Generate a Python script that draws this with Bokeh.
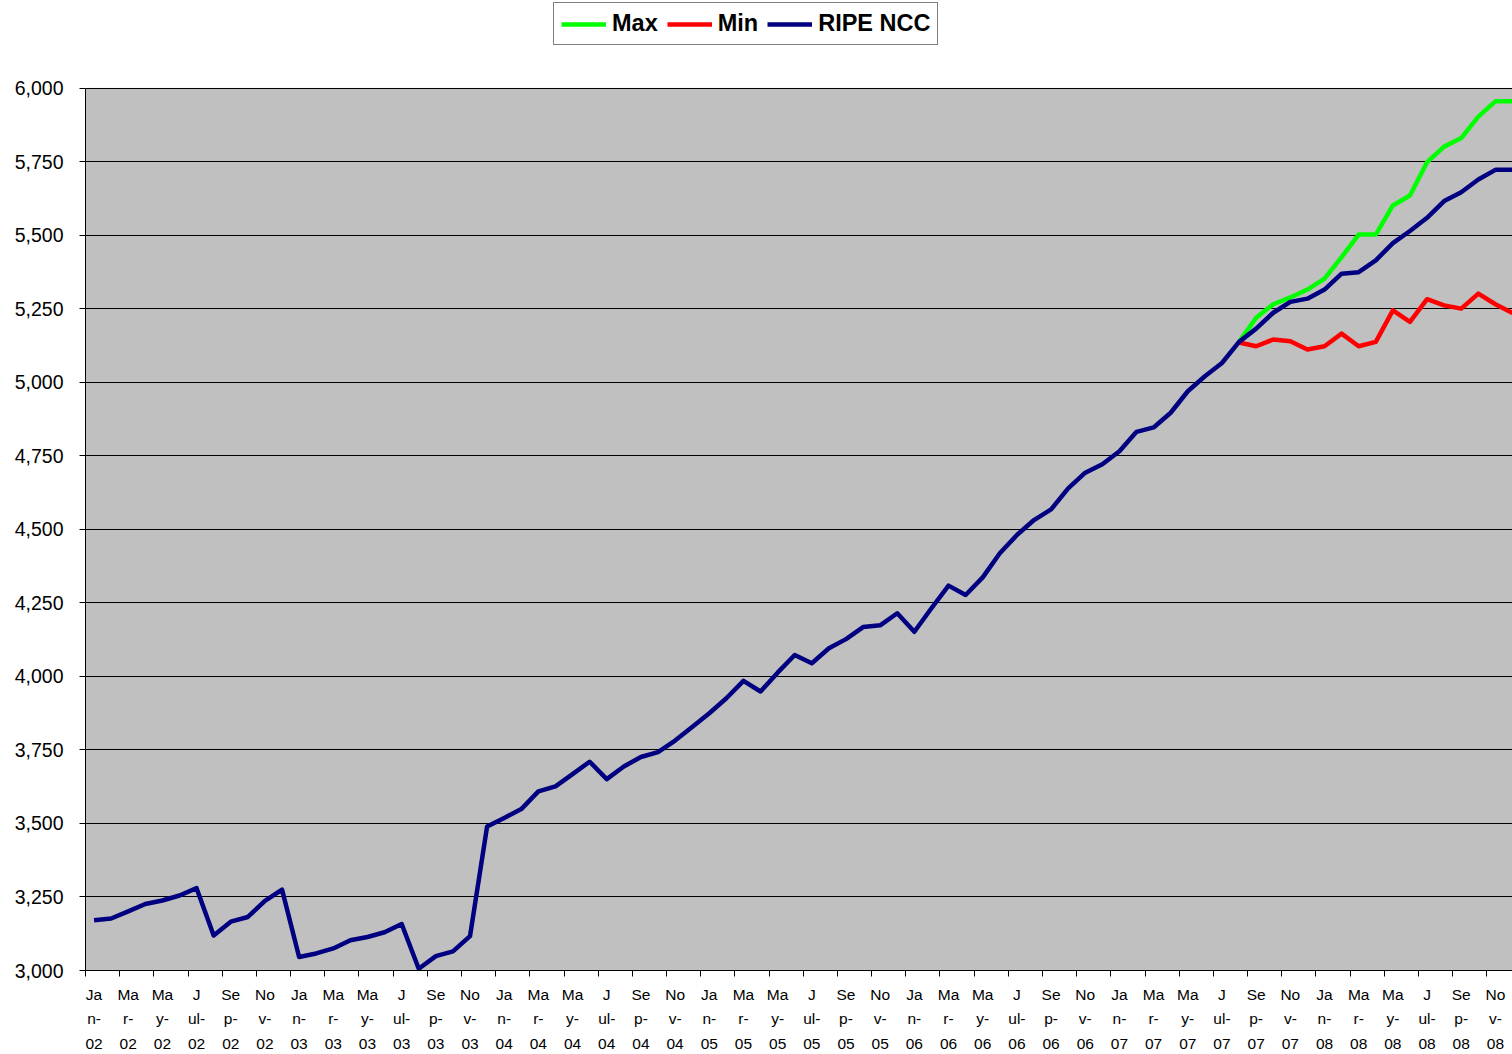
import numpy as np
from bokeh.plotting import figure
from bokeh.models import (ColumnDataSource, FixedTicker, NumeralTickFormatter,
                          Legend, LegendItem, Range1d, BoxAnnotation)
from bokeh.embed import file_html
from bokeh.resources import INLINE

# ---- data -------------------------------------------------------------
month_names = ["Jan", "Feb", "Mar", "Apr", "May", "Jun",
               "Jul", "Aug", "Sep", "Oct", "Nov", "Dec"]
years = ["02", "03", "04", "05", "06", "07", "08"]
months = [f"{m}-{y}" for y in years for m in month_names]   # Jan-02 .. Dec-08

ripe_ncc = [3171, 3177, 3201, 3226, 3238, 3255, 3280, 3119, 3166, 3182, 3237, 3275,
            3046, 3058, 3075, 3103, 3114, 3130, 3158, 3006, 3049, 3065, 3117, 3490,
            3519, 3549, 3609, 3626, 3668, 3710, 3651, 3694, 3726, 3743, 3782, 3828,
            3875, 3926, 3985, 3949, 4013, 4073, 4045, 4096, 4127, 4168, 4174, 4215,
            4152, 4232, 4309, 4277, 4337, 4419, 4481, 4532, 4568, 4640, 4693, 4722,
            4766, 4832, 4847, 4897, 4970, 5021, 5066, 5138, 5183, 5237, 5274, 5285,
            5316, 5370, 5375, 5415, 5474, 5515, 5560, 5617, 5647, 5690, 5723, 5723]

# forecast series start at Aug-07
forecast_months = months[67:]
max_values = [5138, 5220, 5266, 5289, 5316, 5353, 5426, 5503, 5503, 5602, 5636,
              5749, 5802, 5831, 5904, 5956, 5956]
min_values = [5136, 5123, 5146, 5140, 5112, 5123, 5166, 5123, 5138, 5245, 5206,
              5283, 5262, 5251, 5302, 5266, 5236]

y_ticks = [3000, 3250, 3500, 3750, 4000, 4250, 4500, 4750, 5000, 5250, 5500, 5750, 6000]

# ---- helpers ------------------------------------------------------------
wrap = {"Jan": "Ja\nn-", "Mar": "Ma\nr-", "May": "Ma\ny-",
        "Jul": "J\nul-", "Sep": "Se\np-", "Nov": "No\nv-"}
idx = {m: i for i, m in enumerate(months)}

y_lo, y_hi = y_ticks[0], y_ticks[-1]
# frame extends above the plot area so the legend (inside the frame) sits on top
p = figure(width=1512, height=1054, output_backend="svg", toolbar_location=None,
           x_range=Range1d(-0.5, len(months) - 1.0),
           y_range=Range1d(y_lo, y_hi + (y_hi - y_lo) * 88 / 883),
           min_border_left=85, min_border_right=0, min_border_top=0,
           min_border_bottom=83)
p.background_fill_color = "white"
p.border_fill_color = "white"
p.outline_line_color = None

# grey plot area (3,000 .. 6,000)
plot_area = BoxAnnotation(bottom=y_lo, top=y_hi, fill_color="#C0C0C0", fill_alpha=1,
                          line_color="#808080", line_width=1, level="image")
p.add_layout(plot_area)

src_r = ColumnDataSource(dict(x=[idx[m] for m in months], y=ripe_ncc))
src_max = ColumnDataSource(dict(x=[idx[m] for m in forecast_months], y=max_values))
src_min = ColumnDataSource(dict(x=[idx[m] for m in forecast_months], y=min_values))

r_max = p.line("x", "y", source=src_max, line_color="#00FF00", line_width=4.5,
               line_join="round")
r_min = p.line("x", "y", source=src_min, line_color="#FF0000", line_width=4.5,
               line_join="round")
r_ripe = p.line("x", "y", source=src_r, line_color="#000080", line_width=4.5,
                line_join="round")

# axes
label_ticks = list(range(0, len(months), 2))
p.xaxis.ticker = FixedTicker(ticks=label_ticks,
                             minor_ticks=[t - 0.5 for t in range(0, len(months) + 1, 2)])
p.xaxis.major_label_overrides = {i: f"{wrap[months[i][:3]]}\n{months[i][4:]}"
                                 for i in label_ticks}
p.xaxis.major_tick_line_color = None
p.xaxis.major_tick_out = 0
p.xaxis.major_tick_in = 0
p.xaxis.minor_tick_line_color = "black"
p.xaxis.minor_tick_out = 6
p.xaxis.minor_tick_in = 0
p.xaxis.axis_line_color = "black"
p.xaxis.major_label_text_font = "Liberation Sans"
p.xaxis.major_label_text_font_size = "15.5px"
p.xaxis.major_label_text_color = "black"
p.xaxis.major_label_text_line_height = 1.45
p.xaxis.major_label_standoff = 9

p.yaxis.ticker = FixedTicker(ticks=y_ticks)
p.yaxis.bounds = (y_lo, y_hi)
p.yaxis.formatter = NumeralTickFormatter(format="0,0")
p.yaxis.minor_tick_line_color = None
p.yaxis.major_tick_out = 6
p.yaxis.major_tick_in = 0
p.yaxis.major_tick_line_color = "black"
p.yaxis.axis_line_color = "black"
p.yaxis.major_label_text_font = "Liberation Sans"
p.yaxis.major_label_text_font_size = "19.5px"
p.yaxis.major_label_text_color = "black"
p.yaxis.major_label_standoff = 16

p.xgrid.grid_line_color = None
p.ygrid.ticker = FixedTicker(ticks=y_ticks)
p.ygrid.grid_line_color = "black"
p.ygrid.grid_line_width = 1

legend = Legend(items=[LegendItem(label="Max", renderers=[r_max]),
                       LegendItem(label="Min", renderers=[r_min]),
                       LegendItem(label="RIPE NCC", renderers=[r_ripe])],
                orientation="horizontal", location=(468, 925))
legend.label_text_font = "Liberation Sans"
legend.label_text_font_style = "bold"
legend.label_text_font_size = "23.5px"
legend.label_text_color = "black"
legend.glyph_width = 45
legend.glyph_height = 20
legend.label_standoff = 6
legend.spacing = 9
legend.padding = 7
legend.margin = 0
legend.border_line_color = "black"
legend.border_line_width = 1
legend.background_fill_color = "white"
legend.background_fill_alpha = 1
p.add_layout(legend, "center")

open("out.html", "w").write(file_html(p, INLINE))
